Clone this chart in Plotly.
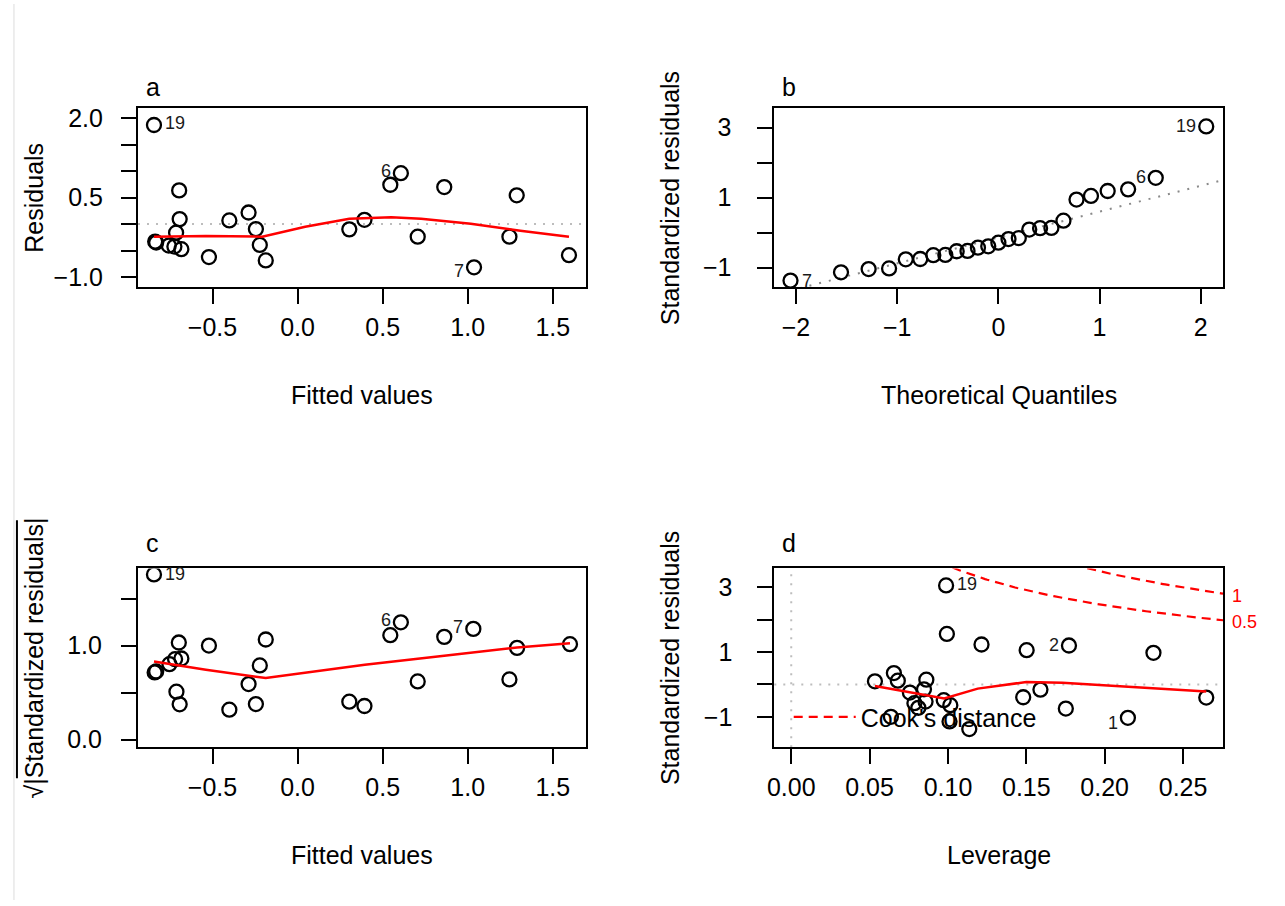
import numpy as np
import plotly.graph_objects as go

FONT = "Liberation Sans, Arial, sans-serif"
W, H = 1285, 906

# ---------------- data ----------------
# (a) Residuals vs Fitted
fitted_a = [-0.844, -0.837, -0.831, -0.757, -0.724, -0.683, -0.714, -0.693, -0.696, -0.521,
            -0.401, -0.288, -0.245, -0.222, -0.187, 0.304, 0.393, 0.545, 0.607, 0.706,
            0.862, 1.037, 1.245, 1.288, 1.595]
resid_a = [1.875, -0.331, -0.350, -0.406, -0.425, -0.475, -0.163, 0.094, 0.638, -0.625,
           0.069, 0.219, -0.094, -0.394, -0.688, -0.100, 0.081, 0.744, 0.963, -0.238,
           0.700, -0.819, -0.238, 0.544, -0.588]
smooth_a_x = [-0.844, -0.539, -0.208, 0.045, 0.304, 0.551, 0.726, 1.018, 1.309, 1.595]
smooth_a_y = [-0.238, -0.225, -0.238, -0.050, 0.100, 0.131, 0.100, 0.006, -0.125, -0.238]
lab_a_idx = [0, 18, 21]
lab_a_txt = ["19", "6", "7"]

# (b) Normal Q-Q
theo_q = [-2.054, -1.555, -1.282, -1.080, -0.915, -0.772, -0.643, -0.524, -0.412, -0.305,
          -0.202, -0.100, 0.000, 0.100, 0.202, 0.305, 0.412, 0.524, 0.643, 0.772,
          0.915, 1.080, 1.282, 1.555, 2.054]
std_b = [-1.372, -1.136, -1.042, -1.024, -0.765, -0.755, -0.647, -0.638, -0.534, -0.525,
         -0.431, -0.393, -0.289, -0.186, -0.158, 0.087, 0.125, 0.134, 0.341, 0.944,
         1.047, 1.188, 1.235, 1.565, 3.033]
qqline_x = [-2.25, 2.25]
qqline_y = [-1.804, 1.522]
lab_b_idx = [0, 23, 24]
lab_b_txt = ["7", "6", "19"]

# (c) Scale-Location
fitted_c = [-0.844, -0.840, -0.831, -0.753, -0.720, -0.683, -0.698, -0.712, -0.693, -0.521,
            -0.401, -0.288, -0.245, -0.222, -0.187, 0.304, 0.393, 0.545, 0.607, 0.706,
            0.862, 1.033, 1.245, 1.290, 1.601]
sqrt_std_c = [1.756, 0.714, 0.724, 0.802, 0.855, 0.862, 1.032, 0.509, 0.375, 1.000,
              0.318, 0.590, 0.378, 0.788, 1.064, 0.403, 0.357, 1.110, 1.247, 0.618,
              1.092, 1.177, 0.640, 0.975, 1.014]
smooth_c_x = [-0.844, -0.539, -0.187, 0.395, 0.823, 1.290, 1.601]
smooth_c_y = [0.830, 0.742, 0.654, 0.795, 0.883, 0.979, 1.025]
lab_c_idx = [0, 18, 21]
lab_c_txt = ["19", "6", "7"]

# (d) Residuals vs Leverage
leverage_d = [0.0534, 0.0655, 0.0680, 0.0757, 0.0786, 0.0811, 0.0847, 0.0862, 0.0857, 0.0636,
              0.0973, 0.1015, 0.1010, 0.0993, 0.0988, 0.1136, 0.1214, 0.1502, 0.1480, 0.1590,
              0.1752, 0.1772, 0.2148, 0.2311, 0.2648]
std_d = [0.097, 0.354, 0.118, -0.251, -0.579, -0.723, -0.149, 0.149, -0.528, -1.000,
         -0.487, -0.641, -1.144, 1.564, 3.062, -1.380, 1.236, 1.062, -0.395, -0.159,
         -0.744, 1.205, -1.031, 0.979, -0.405]
smooth_d_x = [0.0534, 0.0757, 0.0976, 0.1190, 0.1500, 0.1730, 0.2090, 0.2648]
smooth_d_y = [-0.046, -0.250, -0.436, -0.128, 0.077, 0.056, -0.046, -0.220]
lab_d_idx = [14, 21, 22]
lab_d_txt = ["19", "2", "1"]
cook_levels = [0.5, 1.0]
n_params = 3

# axis ranges / ticks
xr_a = [-0.938, 1.697]; yr_a = [-1.197, 2.20]
xr_b = [-2.222, 2.220]; yr_b = [-1.565, 3.565]
xr_c = [-0.938, 1.697]; yr_c = [-0.081, 1.82]
xr_d = [-0.0108, 0.2755]; yr_d = [-1.94, 3.59]

xt_fit = [-0.5, 0.0, 0.5, 1.0, 1.5]
xt_fit_txt = ["\u22120.5", "0.0", "0.5", "1.0", "1.5"]
yt_a = [-1.0, -0.5, 0.0, 0.5, 1.0, 1.5, 2.0]
yt_a_txt = ["\u22121.0", "", "", "0.5", "", "", "2.0"]
xt_b = [-2, -1, 0, 1, 2]
xt_b_txt = ["\u22122", "\u22121", "0", "1", "2"]
yt_std = [-1, 0, 1, 2, 3]
yt_std_txt = ["\u22121", "", "1", "", "3"]
yt_c = [0.0, 0.5, 1.0, 1.5]
yt_c_txt = ["0.0", "", "1.0", ""]
xt_d = [0.0, 0.05, 0.10, 0.15, 0.20, 0.25]
xt_d_txt = ["0.00", "0.05", "0.10", "0.15", "0.20", "0.25"]

# ---------------- layout helpers ----------------
def PX(px):
    return px / W

def PY(py):
    return 1 - py / H

boxes = {
    "a": (131.7, 582.5, 105.0, 286.5),
    "b": (770.7, 1222.7, 105.0, 286.5),
    "c": (131.7, 582.5, 570.7, 751.5),
    "d": (771.5, 1222.7, 570.7, 751.5),
}

def xaxis(box, rng, tv, tt, anchor):
    return dict(domain=[PX(box[0]), PX(box[1])], range=rng, anchor=anchor,
                tickmode="array", tickvals=tv, ticktext=tt,
                showline=True, mirror=True, linecolor="black", linewidth=2,
                ticks="outside", ticklen=15, tickwidth=2, tickcolor="black",
                showgrid=False, zeroline=False, ticklabelstandoff=2,
                tickfont=dict(family=FONT, size=25, color="black"), fixedrange=True)

def yaxis(box, rng, tv, tt, anchor, standoff):
    return dict(domain=[PY(box[3]), PY(box[2])], range=rng, anchor=anchor,
                tickmode="array", tickvals=tv, ticktext=tt,
                showline=True, mirror=True, linecolor="black", linewidth=2,
                ticks="outside", ticklen=15, tickwidth=2, tickcolor="black",
                showgrid=False, zeroline=False, ticklabelstandoff=standoff,
                tickfont=dict(family=FONT, size=25, color="black"), fixedrange=True)

fig = go.Figure()
MARK = dict(symbol="circle-open", size=14, color="black", line=dict(width=2.3))
annotations = []
shapes = []

def add_points(xs, ys, xa, ya):
    fig.add_trace(go.Scatter(x=xs, y=ys, mode="markers", marker=MARK, xaxis=xa, yaxis=ya,
                             showlegend=False, hoverinfo="skip"))

def add_smooth(xs, ys, xa, ya):
    fig.add_trace(go.Scatter(x=xs, y=ys, mode="lines", line=dict(color="red", width=2.5),
                             xaxis=xa, yaxis=ya, showlegend=False, hoverinfo="skip"))

def add_labels(xs, ys, idxs, txts, sides, dys, xa, ya):
    for i, t, s, dy in zip(idxs, txts, sides, dys):
        annotations.append(dict(x=xs[i], y=ys[i], xref=xa, yref=ya, text=t, showarrow=False,
                                xanchor="left" if s == "r" else "right",
                                xshift=9 if s == "r" else -8, yshift=dy,
                                font=dict(family=FONT, size=18, color="#1a1a1a")))

def hzero(xa, ya, color):
    shapes.append(dict(type="line", xref=xa + " domain", yref=ya, x0=0, x1=1, y0=0, y1=0,
                       line=dict(color=color, width=2, dash="2px,7px"), layer="below"))

# panel a
hzero("x", "y", "#bdbdbd")
add_points(fitted_a, resid_a, "x", "y")
add_smooth(smooth_a_x, smooth_a_y, "x", "y")
add_labels(fitted_a, resid_a, lab_a_idx, lab_a_txt, ["r", "l", "l"], [2, 2, -4], "x", "y")

# panel b
fig.add_trace(go.Scatter(x=qqline_x, y=qqline_y, mode="lines",
                         line=dict(color="#8a8a8a", width=2, dash="2px,8px"),
                         xaxis="x2", yaxis="y2", showlegend=False, hoverinfo="skip"))
add_points(theo_q, std_b, "x2", "y2")
add_labels(theo_q, std_b, lab_b_idx, lab_b_txt, ["r", "l", "l"], [0, 1, 0], "x2", "y2")

# panel c
add_points(fitted_c, sqrt_std_c, "x3", "y3")
add_smooth(smooth_c_x, smooth_c_y, "x3", "y3")
add_labels(fitted_c, sqrt_std_c, lab_c_idx, lab_c_txt, ["r", "l", "l"], [0, 2, 2], "x3", "y3")

# panel d
hzero("x4", "y4", "#bdbdbd")
shapes.append(dict(type="line", xref="x4", yref="y4 domain", x0=0, x1=0, y0=0, y1=1,
                   line=dict(color="#bdbdbd", width=2, dash="2px,7px"), layer="below"))
add_points(leverage_d, std_d, "x4", "y4")
add_smooth(smooth_d_x, smooth_d_y, "x4", "y4")
add_labels(leverage_d, std_d, lab_d_idx, lab_d_txt, ["r", "l", "l"], [1, 1, -5], "x4", "y4")

hh = np.linspace(0.002, xr_d[1], 201)
first = True
for lev in cook_levels:
    cy = np.sqrt(lev * n_params * (1 - hh) / hh)
    for sgn in (1, -1):
        fig.add_trace(go.Scatter(x=hh, y=sgn * cy, mode="lines", name="Cook's distance",
                                 line=dict(color="red", width=2.2, dash="9px,6px"),
                                 xaxis="x4", yaxis="y4", showlegend=first, hoverinfo="skip"))
        first = False
    yend = float(np.sqrt(lev * n_params * (1 - xr_d[1]) / xr_d[1]))
    annotations.append(dict(x=xr_d[1], y=yend, xref="x4", yref="y4",
                            text=("%g" % lev), showarrow=False, xanchor="left", xshift=7,
                            yshift=-2, font=dict(family=FONT, size=18, color="red")))

# axis titles and panel letters
def ptext(x, y, text, angle=0, anchor="center", size=25):
    annotations.append(dict(x=PX(x), y=PY(y), xref="paper", yref="paper", text=text,
                            showarrow=False, textangle=angle, xanchor=anchor, yanchor="middle",
                            font=dict(family=FONT, size=size, color="black")))

ptext(357, 395, "Fitted values")
ptext(997, 395, "Theoretical Quantiles")
ptext(357, 860, "Fitted values")
ptext(997, 860, "Leverage")
ptext(27, 196, "Residuals", angle=-90)
ptext(666, 196, "Standardized residuals", angle=-90)
ptext(27, 661, "\u221a|Standardized residuals|", angle=-90)
ptext(666, 661, "Standardized residuals", angle=-90)
ptext(138, 83.5, "a", anchor="left")
ptext(777, 83.5, "b", anchor="left")
ptext(138, 545.5, "c", anchor="left")
ptext(777, 545.5, "d", anchor="left")

# radical overbar and page edge line
shapes.append(dict(type="line", xref="paper", yref="paper", x0=PX(10), x1=PX(10),
                   y0=PY(522), y1=PY(783), line=dict(color="black", width=2)))
shapes.append(dict(type="line", xref="paper", yref="paper", x0=PX(7), x1=PX(7),
                   y0=0, y1=1, line=dict(color="#dcdcdc", width=1)))

fig.update_layout(
    width=W, height=H, margin=dict(l=0, r=0, t=0, b=0),
    paper_bgcolor="white", plot_bgcolor="white",
    font=dict(family=FONT, color="black"),
    xaxis=xaxis(boxes["a"], xr_a, xt_fit, xt_fit_txt, "y"),
    yaxis=yaxis(boxes["a"], yr_a, yt_a, yt_a_txt, "x", 13),
    xaxis2=xaxis(boxes["b"], xr_b, xt_b, xt_b_txt, "y2"),
    yaxis2=yaxis(boxes["b"], yr_b, yt_std, yt_std_txt, "x2", 20),
    xaxis3=xaxis(boxes["c"], xr_c, xt_fit, xt_fit_txt, "y3"),
    yaxis3=yaxis(boxes["c"], yr_c, yt_c, yt_c_txt, "x3", 14),
    xaxis4=xaxis(boxes["d"], xr_d, xt_d, xt_d_txt, "y4"),
    yaxis4=yaxis(boxes["d"], yr_d, yt_std, yt_std_txt, "x4", 20),
    showlegend=True,
    legend=dict(x=PX(786), y=PY(721), xanchor="left", yanchor="middle",
                bgcolor="rgba(0,0,0,0)", borderwidth=0, itemwidth=62,
                font=dict(family=FONT, size=25, color="black")),
    annotations=annotations, shapes=shapes,
)

fig.write_html("out.html", config={"displayModeBar": False},
               post_script="document.body.style.margin='0';document.body.style.overflow='hidden';")
